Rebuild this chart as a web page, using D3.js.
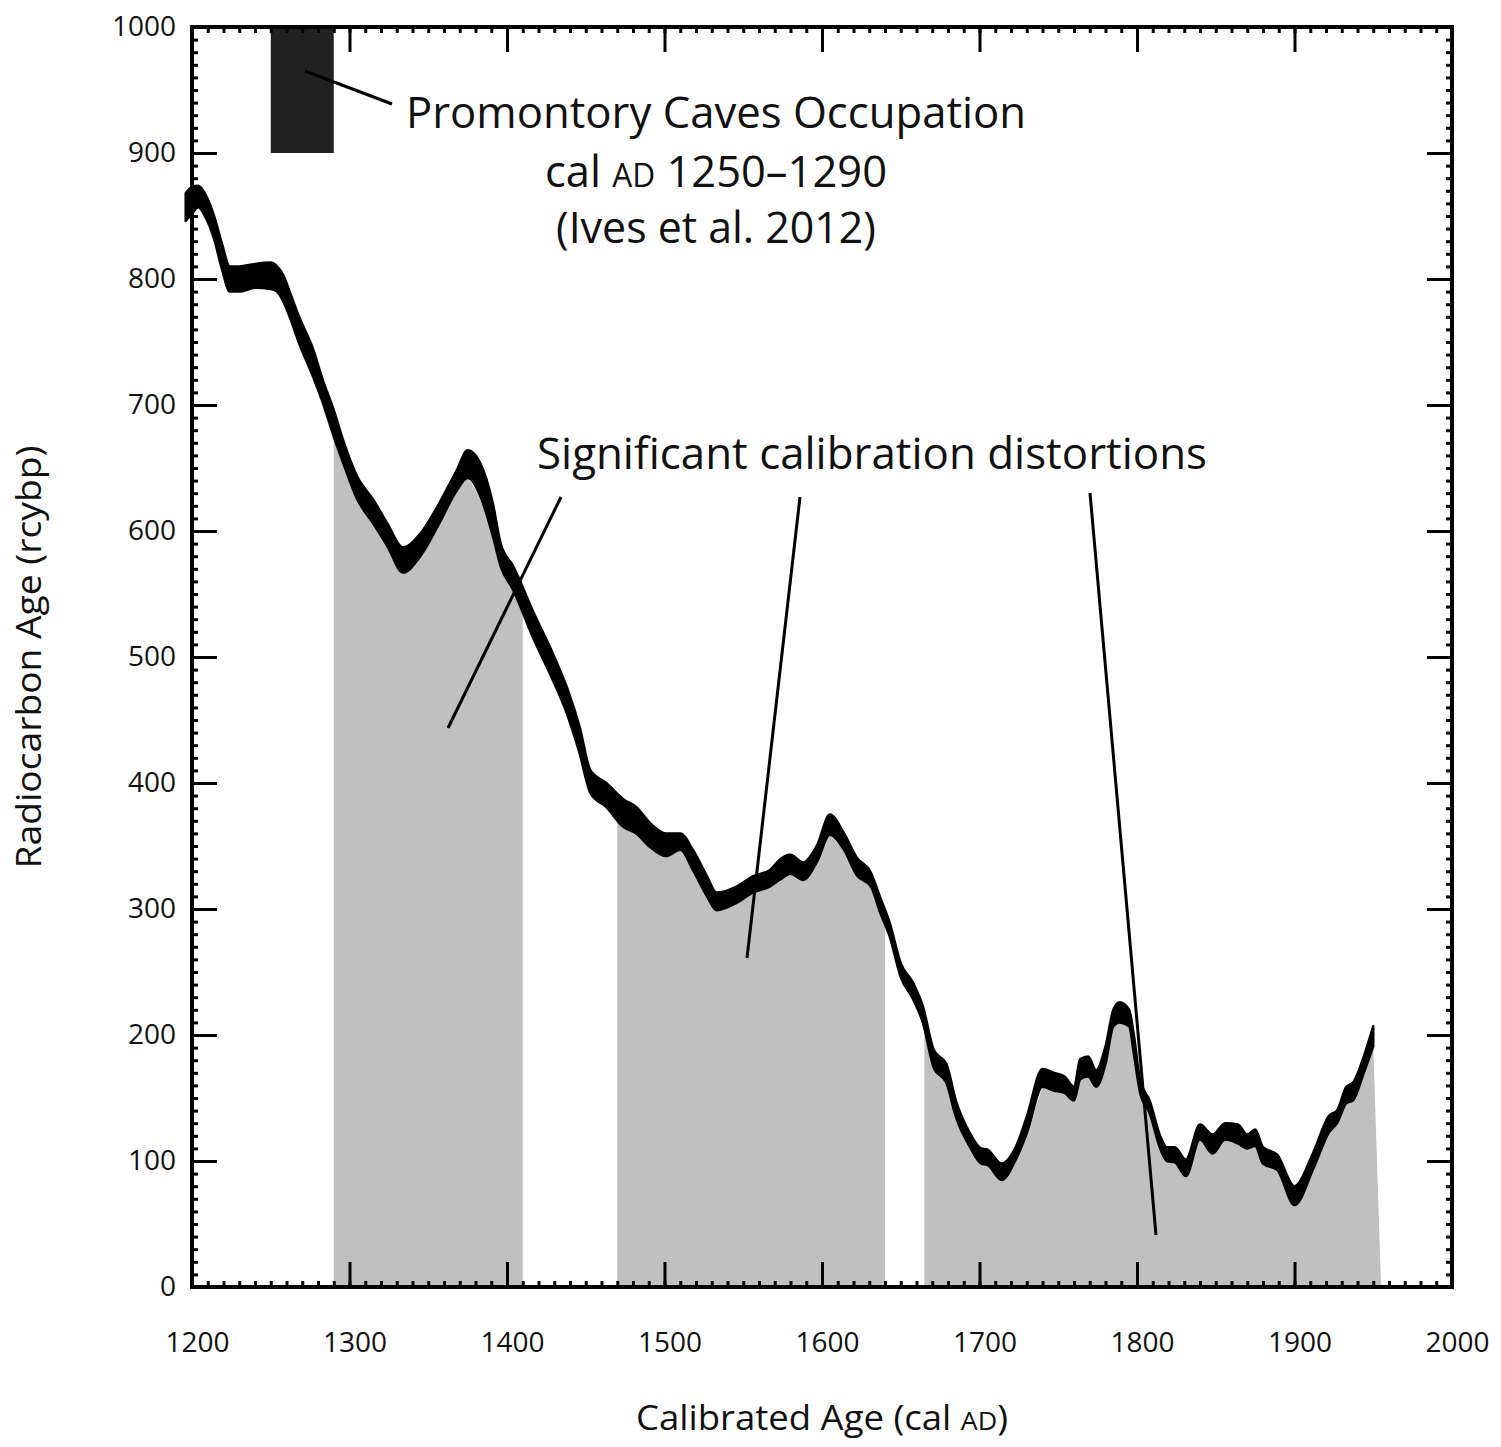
<!DOCTYPE html>
<html><head><meta charset="utf-8">
<script src="https://cdn.jsdelivr.net/npm/d3@7/dist/d3.min.js"></script>
<style>body{margin:0;background:#fff} text{font-family:"Open Sans",sans-serif;fill:#111}</style>
</head><body><svg id="c" width="1501" height="1447"></svg>
<script>
// IntCal-style calibration band (calibrated year AD, upper / lower radiocarbon age)
const years = [1196,1200,1204,1209,1214,1219,1224,1230,1240,1250,1254,1258,1262,1268,1277,1283,1290,1296,1305,1315,1324,1334,1345,1357,1368,1375,1383,1391,1396,1404,1417,1429,1438,1446,1453,1463,1474,1482,1491,1501,1510,1518,1527,1533,1546,1556,1567,1573,1580,1588,1597,1605,1614,1622,1631,1637,1643,1650,1658,1664,1671,1679,1685,1694,1701,1705,1714,1723,1730,1740,1747,1754,1760,1764,1769,1774,1780,1785,1789,1795,1798,1802,1808,1815,1819,1824,1831,1840,1848,1856,1864,1870,1875,1880,1889,1900,1912,1922,1927,1933,1937,1944,1950];
const upper = [868,873,874,866,850,828,810,810,812,813,810,803,790,770,744,720,696,672,643,625,606,587,598,622,648,664,654,622,590,572,535,503,476,445,410,400,387,381,368,360,360,347,326,313,318,326,331,339,343,337,351,375,360,341,329,309,289,257,241,223,188,177,148,122,110,109,98,111,135,173,170,167,159,181,183,172,191,220,226,220,200,164,148,119,111,111,101,129,121,130,129,121,125,111,105,80,107,136,140,159,162,183,207];
const lower = [846,852,857,848,832,808,790,790,793,792,790,782,770,749,722,702,675,654,625,606,588,567,580,606,632,642,628,596,572,553,514,482,455,424,392,381,365,360,349,342,347,331,310,299,305,313,318,323,328,323,338,359,347,327,318,297,278,246,228,210,174,162,135,111,98,97,85,101,122,159,156,154,148,165,167,159,177,207,210,207,185,154,138,109,100,99,88,117,106,117,114,110,112,98,93,65,94,123,130,146,148,170,191];

// Shaded periods of significant calibration distortion (cal AD)
const shadeStart   = [1290, 1470, 1665];
const shadeEnd     = [1410, 1640, 1950];
const shadeBaseEnd = [1410, 1640, 1955];

// Promontory Caves occupation block
const occYears = [1250, 1290];
const occAges  = [900, 1000];

const xMajor = [1200,1300,1400,1500,1600,1700,1800,1900,2000];
const xMajorLabels = ["1200","1300","1400","1500","1600","1700","1800","1900","2000"];
const yMajor = [0,100,200,300,400,500,600,700,800,900,1000];
const yMajorLabels = ["0","100","200","300","400","500","600","700","800","900","1000"];

const svg = d3.select("#c");
const x = d3.scaleLinear().domain([1200,2000]).range([192,1452]);
const y = d3.scaleLinear().domain([0,1000]).range([1287,27]);

const data = years.map((yr,i)=>({year:yr, up:upper[i], lo:lower[i]}));
const bis = d3.bisector(d=>d.year).left;
function lowAt(yr){
  const i = bis(data, yr);
  if (i<=0) return data[0].lo;
  if (i>=data.length) return data[data.length-1].lo;
  const a=data[i-1], b=data[i];
  return a.lo + (b.lo-a.lo)*(yr-a.year)/(b.year-a.year);
}

// gray shaded areas
const grayArea = d3.area().x(d=>x(d.year)).y0(y(0)).y1(d=>y(d.v));
shadeStart.forEach((s,i)=>{
  const e = shadeEnd[i];
  const pts = [{year:s, v:lowAt(s)}];
  data.filter(d=>d.year>s && d.year<e).forEach(d=>pts.push({year:d.year, v:d.lo}));
  pts.push({year:e, v:lowAt(e)});
  if (shadeBaseEnd[i] > e) pts.push({year:shadeBaseEnd[i], v:0});
  svg.append("path").attr("d", grayArea(pts)).attr("fill","#c0c0c0");
});

// occupation rectangle
svg.append("rect")
  .attr("x", x(occYears[0])).attr("y", y(occAges[1]))
  .attr("width", x(occYears[1])-x(occYears[0]))
  .attr("height", y(occAges[0])-y(occAges[1]))
  .attr("fill","#222");

// calibration band
const band = d3.area().x(d=>x(d.year)).y0(d=>y(d.lo)).y1(d=>y(d.up)).curve(d3.curveMonotoneX);
svg.append("path").attr("d", band(data)).attr("fill","#000").attr("stroke","#000").attr("stroke-width",2.5).attr("stroke-linejoin","round");

// axes (ticks inward on all four sides)
const xMinor = d3.range(1200,2001,10);
const yMinor = d3.range(0,1001,10);
function styleAxis(g){ g.select(".domain").remove(); g.selectAll(".tick line").attr("stroke","#000").attr("stroke-width",3); }

svg.append("g").attr("transform",`translate(0,${y(0)})`)
  .call(d3.axisBottom(x).tickValues(xMinor).tickSize(-6).tickFormat("")).call(styleAxis);
svg.append("g").attr("transform",`translate(0,${y(1000)})`)
  .call(d3.axisTop(x).tickValues(xMinor).tickSize(-6).tickFormat("")).call(styleAxis);
svg.append("g").attr("transform",`translate(${x(1200)},0)`)
  .call(d3.axisLeft(y).tickValues(yMinor).tickSize(-6).tickFormat("")).call(styleAxis);
svg.append("g").attr("transform",`translate(${x(2000)},0)`)
  .call(d3.axisRight(y).tickValues(yMinor).tickSize(-6).tickFormat("")).call(styleAxis);

const gxb = svg.append("g").attr("transform",`translate(0,${y(0)})`)
  .call(d3.axisBottom(x).tickValues(xMajor).tickSize(-25).tickPadding(45).tickFormat((d,i)=>xMajorLabels[i])).call(styleAxis);
gxb.selectAll("text").attr("font-size",28).attr("font-family","Open Sans").attr("fill","#111").attr("dx",5);
svg.append("g").attr("transform",`translate(0,${y(1000)})`)
  .call(d3.axisTop(x).tickValues(xMajor).tickSize(-25).tickFormat("")).call(styleAxis);
const gyl = svg.append("g").attr("transform",`translate(${x(1200)},0)`)
  .call(d3.axisLeft(y).tickValues(yMajor).tickSize(-25).tickPadding(16).tickFormat((d,i)=>yMajorLabels[i])).call(styleAxis);
gyl.selectAll("text").attr("font-size",28).attr("font-family","Open Sans").attr("fill","#111");
svg.append("g").attr("transform",`translate(${x(2000)},0)`)
  .call(d3.axisRight(y).tickValues(yMajor).tickSize(-25).tickFormat("")).call(styleAxis);

// frame
svg.append("rect").attr("x",x(1200)).attr("y",y(1000)).attr("width",x(2000)-x(1200)).attr("height",y(0)-y(1000))
  .attr("fill","none").attr("stroke","#000").attr("stroke-width",4);

// annotations
const lines = [
  [305,71,392,104],
  [561,497,448,728],
  [800,497,747,958],
  [1090,493,1156,1235]
];
lines.forEach(l=>svg.append("line").attr("x1",l[0]).attr("y1",l[1]).attr("x2",l[2]).attr("y2",l[3]).attr("stroke","#000").attr("stroke-width",3));

svg.append("text").attr("x",716).attr("y",128).attr("text-anchor","middle").attr("font-size",44)
  .attr("textLength",620).attr("lengthAdjust","spacingAndGlyphs").text("Promontory Caves Occupation");
const t2 = svg.append("text").attr("x",716).attr("y",187).attr("text-anchor","middle").attr("font-size",44)
  .attr("textLength",342).attr("lengthAdjust","spacingAndGlyphs");
t2.append("tspan").text("cal ");
t2.append("tspan").attr("font-size",32).text("AD");
t2.append("tspan").text(" 1250–1290");
svg.append("text").attr("x",716).attr("y",243).attr("text-anchor","middle").attr("font-size",44)
  .attr("textLength",320).attr("lengthAdjust","spacingAndGlyphs").text("(Ives et al. 2012)");
svg.append("text").attr("x",872).attr("y",469).attr("text-anchor","middle").attr("font-size",44)
  .attr("textLength",670).attr("lengthAdjust","spacingAndGlyphs").text("Significant calibration distortions");

// axis titles
const xt = svg.append("text").attr("x",822).attr("y",1430).attr("text-anchor","middle").attr("font-size",34)
  .attr("textLength",372).attr("lengthAdjust","spacingAndGlyphs");
xt.append("tspan").text("Calibrated Age (cal ");
xt.append("tspan").attr("font-size",25).text("AD");
xt.append("tspan").text(")");
svg.append("text").attr("transform","translate(41,657) rotate(-90)").attr("text-anchor","middle").attr("font-size",34)
  .attr("textLength",423).attr("lengthAdjust","spacingAndGlyphs").text("Radiocarbon Age (rcybp)");
</script></body></html>
